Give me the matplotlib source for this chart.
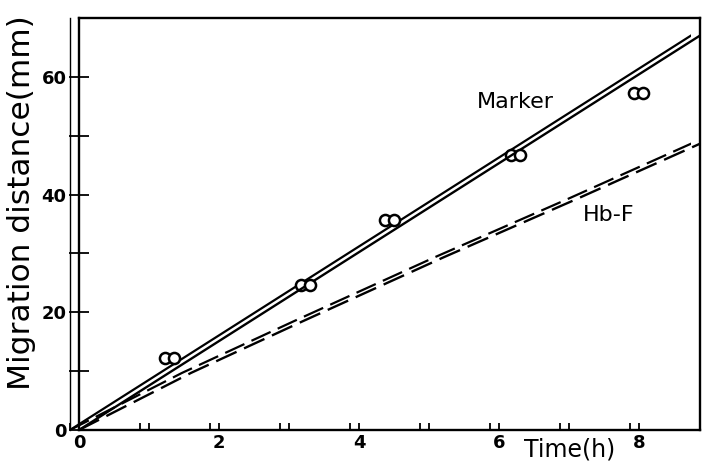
import matplotlib
matplotlib.use('Agg')
import matplotlib.pyplot as plt

# Measured points (Marker band)
marker_t = [1.35, 3.3, 4.5, 6.3, 8.05]
marker_y = [12.2, 24.6, 35.6, 46.8, 57.3]

# Fitted line for the marker
fit_t = [0, 9]
fit_y = [0, 68]

# Hb-F curve (dashed)
hbf_t = [0, 1.6, 3.2, 5.2, 7.1, 8.9]
hbf_y = [0, 9.7, 18.5, 29.3, 39.2, 48.8]

x_ticks = [0, 1, 2, 3, 4, 5, 6, 7, 8]
x_labels = ['0', '', '2', '', '4', '', '6', '', '8']
y_major = [0, 20, 40, 60]
y_minor = [10, 30, 50]

plt.rcParams['font.family'] = ['DejaVu Sans']

W, H = 702, 462
fig = plt.figure(figsize=(W / 100, H / 100), dpi=100)

# axes rectangle in pixels
left, right, top, bottom = 79, 700, 18, 430
rect = [left / W, (H - bottom) / H, (right - left) / W, (bottom - top) / H]

# ghost copy of the scan, shifted a few pixels to the left
ghost_shift = 9
grect = [(left - ghost_shift) / W, rect[1], rect[2], rect[3]]
gh = fig.add_axes(grect, zorder=1)
ax = fig.add_axes(rect, zorder=2)


def draw(a, lw):
    a.plot(fit_t, fit_y, color='black', lw=lw, solid_capstyle='butt')
    a.plot(hbf_t, hbf_y, color='black', lw=lw, dashes=(9.5, 3.5))
    a.plot(marker_t, marker_y, 'o', ms=8, mfc='white', mec='black', mew=1.8)
    a.set_xlim(0, 8.87)
    a.set_ylim(0, 70)


draw(gh, 1.6)
draw(ax, 1.7)

for a in (gh, ax):
    a.patch.set_visible(False)

# ghost: only the left spine and the little x ticks
for s in gh.spines.values():
    s.set_visible(False)
gh.spines['left'].set_visible(True)
gh.spines['left'].set_linewidth(1.0)
gh.set_xticks(x_ticks)
gh.set_xticklabels([])
gh.set_yticks([])
gh.tick_params(axis='x', direction='in', length=5, width=1.3)

for s in ax.spines.values():
    s.set_linewidth(1.7)

ax.set_xticks(x_ticks)
ax.set_xticklabels(x_labels, fontsize=13, fontweight='bold')
ax.tick_params(axis='x', direction='in', length=5, width=1.3, pad=3)

ax.set_yticks(y_major)
ax.set_yticks(y_minor, minor=True)
ax.set_yticklabels([str(v) for v in y_major], fontsize=13, fontweight='bold')
ax.tick_params(axis='y', which='major', direction='inout', length=14, width=1.3, pad=2)
ax.tick_params(axis='y', which='minor', direction='inout', length=14, width=1.3)

ax.text(6.23, 55.8, 'Marker', fontsize=16, ha='center', va='center')
ax.text(7.56, 36.5, 'Hb-F', fontsize=16, ha='center', va='center')

fig.text(22 / W, 1 - 203 / H, 'Migration distance(mm)', rotation=90,
         fontsize=22.5, ha='center', va='center')
fig.text(570 / W, 1 - 450 / H, 'Time(h)', fontsize=17, ha='center', va='center')

fig.savefig('out.png', dpi=100, facecolor='white')
